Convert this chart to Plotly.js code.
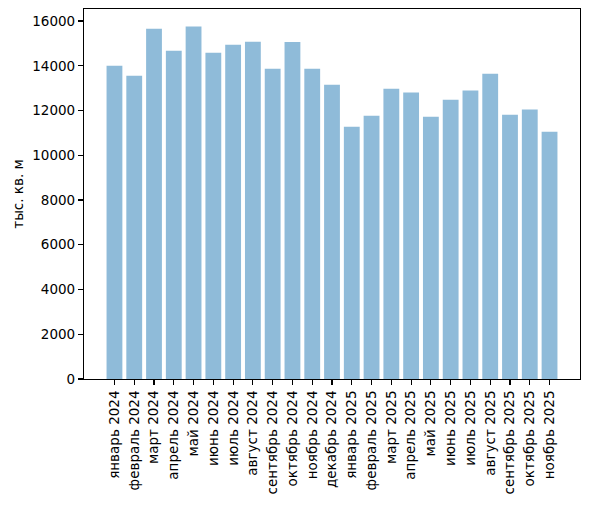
<!DOCTYPE html>
<html>
<head>
<meta charset="utf-8">
<script src="https://cdn.plot.ly/plotly-3.0.1.min.js"></script>
<style>
  html, body { margin: 0; padding: 0; background: #fff; }
  #chart { width: 589px; height: 506px; }
</style>
</head>
<body>
<div id="chart"></div>
<script>
// месяцы и ввод жилья, тыс. кв. м
const months = [
  'январь 2024', 'февраль 2024', 'март 2024', 'апрель 2024', 'май 2024',
  'июнь 2024', 'июль 2024', 'август 2024', 'сентябрь 2024', 'октябрь 2024',
  'ноябрь 2024', 'декабрь 2024', 'январь 2025', 'февраль 2025', 'март 2025',
  'апрель 2025', 'май 2025', 'июнь 2025', 'июль 2025', 'август 2025',
  'сентябрь 2025', 'октябрь 2025', 'ноябрь 2025'
];
const values = [
  14000, 13550, 15650, 14670, 15750,
  14580, 14940, 15070, 13870, 15060,
  13870, 13150, 11280, 11770, 12970,
  12800, 11720, 12480, 12890, 13640,
  11810, 12040, 11050
];
const yTicks = [0, 2000, 4000, 6000, 8000, 10000, 12000, 14000, 16000];
const yLabel = 'тыс. кв. м';

const idx = months.map((m, i) => i);
const ymax = Math.max(...values) * 1.05;

const trace = {
  type: 'bar',
  x: idx,
  y: values,
  width: 0.8,
  marker: { color: 'rgba(31,119,180,0.5)', line: { width: 0 } },
  hoverinfo: 'skip'
};

const axisCommon = {
  showgrid: false,
  zeroline: false,
  showline: true,
  linecolor: '#000',
  linewidth: 1.1,
  mirror: true,
  ticks: 'outside',
  ticklen: 5,
  tickwidth: 1.1,
  tickcolor: '#000',
  tickfont: { family: 'DejaVu Sans', size: 13.5, color: '#000' }
};

const layout = {
  width: 589,
  height: 506,
  margin: { l: 84, r: 9, t: 9, b: 127 },
  paper_bgcolor: '#fff',
  plot_bgcolor: '#fff',
  showlegend: false,
  xaxis: Object.assign({}, axisCommon, {
    range: [-1.54, months.length + 0.54],
    tickmode: 'array',
    tickvals: idx,
    ticktext: months,
    tickangle: -90
  }),
  yaxis: Object.assign({}, axisCommon, {
    range: [0, ymax],
    tickmode: 'array',
    tickvals: yTicks,
    ticktext: yTicks.map(String),
    title: { text: yLabel, font: { family: 'DejaVu Sans', size: 13.5, color: '#000' }, standoff: 5 }
  })
};

Plotly.newPlot('chart', [trace], layout, { staticPlot: true });
</script>
</body>
</html>
